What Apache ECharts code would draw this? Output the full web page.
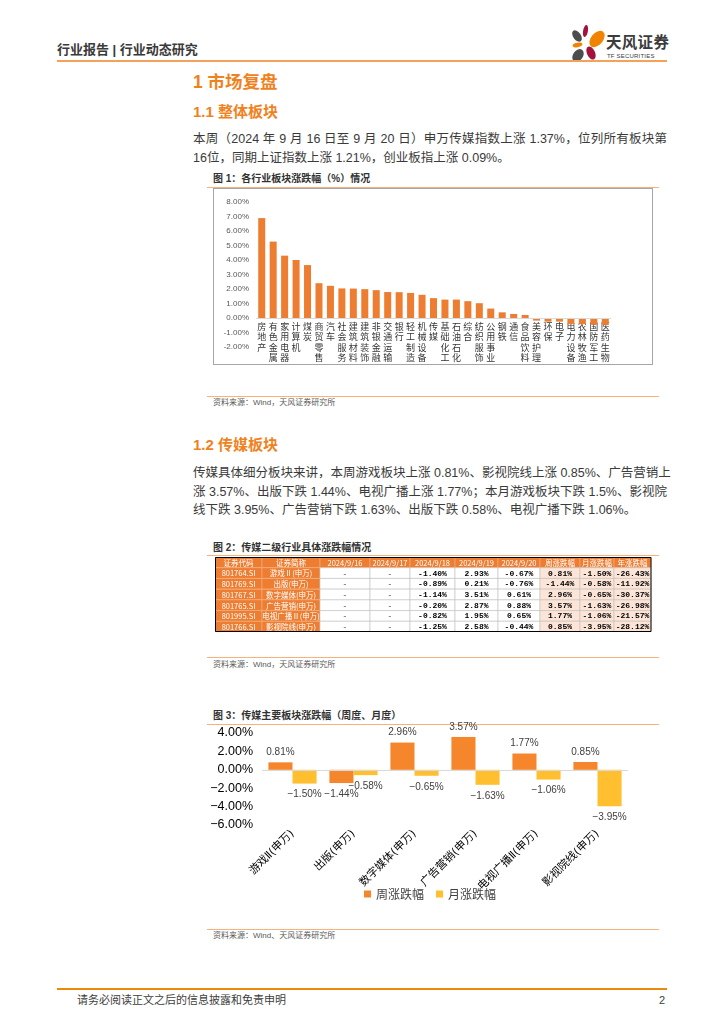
<!DOCTYPE html>
<html><head><meta charset="utf-8">
<script src="https://cdn.jsdelivr.net/npm/echarts@6/dist/echarts.min.js"></script>
<style>
html,body{margin:0;padding:0;background:#fff;}
body{width:724px;height:1024px;position:relative;overflow:hidden;font-family:"Liberation Sans","Noto Sans CJK SC",sans-serif;color:#333;}
.abs{position:absolute;}
.hl{position:absolute;height:1px;background:#F7B27C;}
.h1{position:absolute;left:193px;color:#F0821E;font-weight:bold;font-family:"Liberation Sans","Noto Sans CJK SC";}
.pl{position:absolute;left:193px;width:474px;font-size:12.5px;line-height:19px;color:#3a3a3a;white-space:nowrap;}
.j{text-align:justify;text-align-last:justify;}
.ttl{position:absolute;left:213px;font-size:10px;font-weight:bold;color:#333;line-height:12px;}
.src{position:absolute;left:213px;font-size:8px;color:#595959;line-height:10px;}
</style></head>
<body>
<!-- header -->
<div class="abs" style="left:57px;top:42px;font-size:13px;font-weight:bold;color:#3a3a3a;line-height:16px;">行业报告 | 行业动态研究</div>
<svg class="abs" style="left:565px;top:22px;" width="45" height="45" viewBox="565 22 45 45">
<ellipse cx="577" cy="36" rx="3.8" ry="6.5" transform="rotate(-35 577 36)" fill="#4d4d4d"/>
<ellipse cx="585.5" cy="31" rx="2.4" ry="6" transform="rotate(10 585.5 31)" fill="#A3123A"/>
<ellipse cx="597" cy="39" rx="6" ry="9.5" transform="rotate(40 597 39)" fill="#F08300"/>
<ellipse cx="577.5" cy="45" rx="5" ry="2.2" transform="rotate(-12 577.5 45)" fill="#F08300"/>
<ellipse cx="591" cy="53" rx="4" ry="7" transform="rotate(-25 591 53)" fill="#A3123A"/>
<ellipse cx="578" cy="55.5" rx="5" ry="7" transform="rotate(35 578 55.5)" fill="#4d4d4d"/>
</svg>
<div class="abs" style="left:606px;top:34px;font-size:15.5px;font-weight:bold;color:#3c3c3c;line-height:18px;letter-spacing:0.3px;">天风证券</div>
<div class="abs" style="left:607px;top:53px;font-size:6px;color:#3c3c3c;line-height:7px;letter-spacing:0.2px;">TF SECURITIES</div>
<div class="abs" style="left:57px;top:60px;width:610px;height:2px;background:#F4A259;"></div>

<div class="h1" style="top:71px;font-size:17.5px;line-height:22px;">1 市场复盘</div>
<div class="h1" style="top:102px;font-size:15px;line-height:20px;">1.1 整体板块</div>
<div class="pl j" style="top:130px;">本周（2024 年 9 月 16 日至 9 月 20 日）申万传媒指数上涨 1.37%，位列所有板块第</div>
<div class="pl" style="top:149px;">16位，同期上证指数上涨 1.21%，创业板指上涨 0.09%。</div>

<div class="ttl" style="top:173px;">图 1：各行业板块涨跌幅（%）情况</div>
<div class="hl" style="left:207px;top:187px;width:452px;"></div>
<div class="abs" id="c1" style="left:213px;top:188px;width:438px;height:175px;border:1px solid #A6A6A6;"></div>
<div class="hl" style="left:207px;top:396px;width:452px;"></div>
<div class="src" style="top:398px;">资料来源：Wind，天风证券研究所</div>

<div class="h1" style="top:435px;font-size:15px;line-height:20px;">1.2 传媒板块</div>
<div class="pl j" style="top:464px;">传媒具体细分板块来讲，本周游戏板块上涨 0.81%、影视院线上涨 0.85%、广告营销上</div>
<div class="pl j" style="top:483px;">涨 3.57%、出版下跌 1.44%、电视广播上涨 1.77%；本月游戏板块下跌 1.5%、影视院</div>
<div class="pl" style="top:501px;">线下跌 3.95%、广告营销下跌 1.63%、出版下跌 0.58%、电视广播下跌 1.06%。</div>

<div class="ttl" style="top:542px;">图 2：传媒二级行业具体涨跌幅情况</div>
<div class="hl" style="left:207px;top:555px;width:452px;"></div>
<div class="abs" id="c2" style="left:215px;top:557px;width:437px;height:75px;"></div>
<div class="hl" style="left:207px;top:657px;width:452px;"></div>
<div class="src" style="top:660px;">资料来源：Wind，天风证券研究所</div>

<div class="ttl" style="top:710px;">图 3：传媒主要板块涨跌幅（周度、月度）</div>
<div class="hl" style="left:207px;top:724px;width:452px;"></div>
<div class="abs" id="c3" style="left:200px;top:712px;width:460px;height:214px;"></div>
<div class="hl" style="left:207px;top:929px;width:452px;"></div>
<div class="src" style="top:931px;">资料来源：Wind、天风证券研究所</div>

<!-- footer -->
<div class="abs" style="left:57px;top:988px;width:610px;height:2px;background:#E98A0E;"></div>
<div class="abs" style="left:77px;top:993px;font-size:11px;color:#404040;line-height:14px;">请务必阅读正文之后的信息披露和免责申明</div>
<div class="abs" style="left:659px;top:993px;font-size:11px;color:#404040;line-height:14px;">2</div>

<script>
// ---------- Chart 1 data ----------
var industries = ['房地产','有色金属','家用电器','计算机','煤炭','商贸零售','汽车','社会服务','建筑材料','建筑装饰','非银金融','交通运输','银行','轻工制造','机械设备','传媒','基础化工','石油石化','综合','纺织服饰','公用事业','钢铁','通信','食品饮料','美容护理','环保','电子','电力设备','农林牧渔','国防军工','医药生物'];
var industryChange = [6.89,5.27,4.30,4.00,3.65,2.40,2.22,2.04,2.03,1.99,1.92,1.79,1.78,1.73,1.60,1.37,1.27,1.27,1.16,1.02,0.65,0.39,0.28,0.21,-0.18,-0.25,-0.25,-0.42,-0.42,-0.46,-0.46];
var c1Min = -2, c1Max = 8;

// ---------- Table data ----------
var tableHeaders = ['证券代码','证券简称','2024/9/16','2024/9/17','2024/9/18','2024/9/19','2024/9/20','周涨跌幅','月涨跌幅','年涨跌幅'];
var codes = ['801764.SI','801769.SI','801767.SI','801765.SI','801995.SI','801766.SI'];
var names = ['游戏Ⅱ(申万)','出版(申万)','数字媒体(申万)','广告营销(申万)','电视广播Ⅱ(申万)','影视院线(申万)'];
var d0916 = ['-','-','-','-','-','-'];
var d0917 = ['-','-','-','-','-','-'];
var d0918 = [-1.40,-0.89,-1.14,-0.20,-0.82,-1.25];
var d0919 = [2.93,0.21,3.51,2.87,1.95,2.58];
var d0920 = [-0.67,-0.76,0.61,0.88,0.65,-0.44];
var weekChg = [0.81,-1.44,2.96,3.57,1.77,0.85];
var monthChg = [-1.50,-0.58,-0.65,-1.63,-1.06,-3.95];
var yearChg = [-26.43,-11.92,-30.37,-26.98,-21.57,-28.12];

// ---------- Chart 3 data ----------
var sectors = ['游戏Ⅱ(申万)','出版(申万)','数字媒体(申万)','广告营销(申万)','电视广播Ⅱ(申万)','影视院线(申万)'];
var weekly = [0.81,-1.44,2.96,3.57,1.77,0.85];
var monthly = [-1.50,-0.58,-0.65,-1.63,-1.06,-3.95];

// ---------- Chart 1 ----------
var g1 = {left:42,right:41,top:13,height:145};
var zeroFromBottom = g1.height * (0 - c1Min) / (c1Max - c1Min);
var c1 = echarts.init(document.getElementById('c1'));
c1.setOption({
  animation:false,
  grid:{left:g1.left,right:g1.right,top:g1.top,height:g1.height,outerBoundsMode:'none',containLabel:false},
  xAxis:{type:'category',data:industries,position:'bottom',
    axisLine:{show:false,onZero:false},axisTick:{show:false},
    axisLabel:{interval:0,margin:3 - zeroFromBottom,fontSize:9,lineHeight:10.5,color:'#333',verticalAlign:'top',
      fontFamily:'Noto Sans CJK SC',formatter:function(v){return v.split('').join('\n');}}},
  yAxis:{type:'value',min:c1Min,max:c1Max,interval:1,splitLine:{show:false},axisLine:{show:false},axisTick:{show:false},
    axisLabel:{fontSize:8,color:'#595959',margin:7,fontFamily:'Liberation Sans',
      formatter:function(v){return v.toFixed(2)+'%';}}},
  series:[{type:'bar',data:industryChange,barWidth:7,itemStyle:{color:'#ED7D31'},
    markLine:{silent:true,symbol:'none',label:{show:false},lineStyle:{color:'#D9D9D9',width:1,type:'solid'},data:[{yAxis:0}]}}]
});

// ---------- Chart 2 (table) ----------
var colEdges = [0,47,105,155,195,240,283,325,365,399,436];
function pct(v){return typeof v==='number'? v.toFixed(2)+'%' : v;}
var columns = [codes,names,d0916,d0917,d0918,d0919,d0920,weekChg,monthChg,yearChg];
var cells = [];
for (var c=0;c<tableHeaders.length;c++){
  cells.push({c:c,r:0,t:tableHeaders[c],k:'head'});
  for (var r=0;r<codes.length;r++){
    var k = c<2?'key':(c>=7?'peach':'plain');
    cells.push({c:c,r:r+1,t:pct(columns[c][r]),k:k});
  }
}
var c2 = echarts.init(document.getElementById('c2'));
c2.setOption({
  animation:false,
  grid:{left:0,right:0,top:0,bottom:0,outerBoundsMode:'none'},
  xAxis:{type:'value',min:0,max:437,show:false},
  yAxis:{type:'value',min:0,max:7,inverse:true,show:false},
  series:[{type:'custom',data:cells.map(function(d){return [d.c,d.r];}),
    renderItem:function(params,api){
      var d = cells[params.dataIndex];
      var p0 = api.coord([colEdges[d.c], d.r]);
      var p1 = api.coord([colEdges[d.c+1], d.r+1]);
      var orange = d.k==='head'||d.k==='key';
      var fill = orange ? '#ED7D31' : (d.k==='peach' ? '#FCE4D6' : '#FFFFFF');
      var stroke = orange ? '#F4B183' : '#BFBFBF';
      var tc = orange ? '#FFFFFF' : (d.t==='-' ? '#7F7F7F' : '#000000');
      return {type:'group',children:[
        {type:'rect',shape:{x:p0[0],y:p0[1],width:p1[0]-p0[0],height:p1[1]-p0[1]},style:{fill:fill,stroke:stroke,lineWidth:0.6}},
        {type:'text',style:{text:d.t,x:(p0[0]+p1[0])/2,y:(p0[1]+p1[1])/2+0.5,align:'center',verticalAlign:'middle',fill:tc,
          font:(orange?'normal 7.5px "Noto Sans CJK SC"':'bold 8px "Liberation Mono"')}}
      ]};
    }
  },
  {type:'custom',data:[[0,0]],renderItem:function(params,api){
      var p0=api.coord([0,0]),p1=api.coord([436,7]);
      return {type:'rect',shape:{x:p0[0]+0.5,y:p0[1]+0.5,width:p1[0]-p0[0]-0.5,height:p1[1]-p0[1]-1},style:{fill:'none',stroke:'#000',lineWidth:1}};
  }}]
});

// ---------- Chart 3 ----------
function fmt3(v){return (v<0?'\u2212':'')+Math.abs(v).toFixed(2)+'%';}
var c3 = echarts.init(document.getElementById('c3'));
c3.setOption({
  animation:false,
  legend:{top:171,left:'center',itemWidth:7,itemHeight:7,itemGap:12,icon:'rect',
    textStyle:{fontSize:12,color:'#404040',fontFamily:'Noto Sans CJK SC'},data:['周涨跌幅','月涨跌幅']},
  grid:{left:62,width:366,top:21,height:92,outerBoundsMode:'none',containLabel:false},
  xAxis:{type:'category',data:sectors,axisLine:{show:false},axisTick:{show:false},
    axisLabel:{interval:0,rotate:45,margin:7,fontSize:11,color:'#000',fontFamily:'"DejaVu Sans","Noto Sans CJK SC"'}},
  yAxis:{type:'value',min:-6,max:4,interval:2,splitLine:{show:false},axisLine:{show:false},axisTick:{show:false},
    axisLabel:{fontSize:12.5,color:'#000',margin:9,fontFamily:'Liberation Sans',formatter:fmt3}},
  series:[
    {name:'周涨跌幅',type:'bar',barGap:'0%',barCategoryGap:'21%',itemStyle:{color:'#F5862B'},
      data:weekly.map(function(v){return v<0?{value:v,label:{position:'bottom',distance:6}}:v;}),
      label:{show:true,fontSize:10,color:'#404040',fontFamily:'Liberation Sans',
        formatter:function(p){return fmt3(p.value);},position:'top',distance:5},
      markLine:{silent:true,symbol:'none',label:{show:false},lineStyle:{color:'#D9D9D9',width:1,type:'solid'},data:[{yAxis:0}]}
    },
    {name:'月涨跌幅',type:'bar',data:monthly,itemStyle:{color:'#FFBF2F'},
      label:{show:true,fontSize:10,color:'#404040',fontFamily:'Liberation Sans',
        formatter:function(p){return fmt3(p.value);},position:'bottom',distance:6}}
  ]
});
</script>
</body></html>
